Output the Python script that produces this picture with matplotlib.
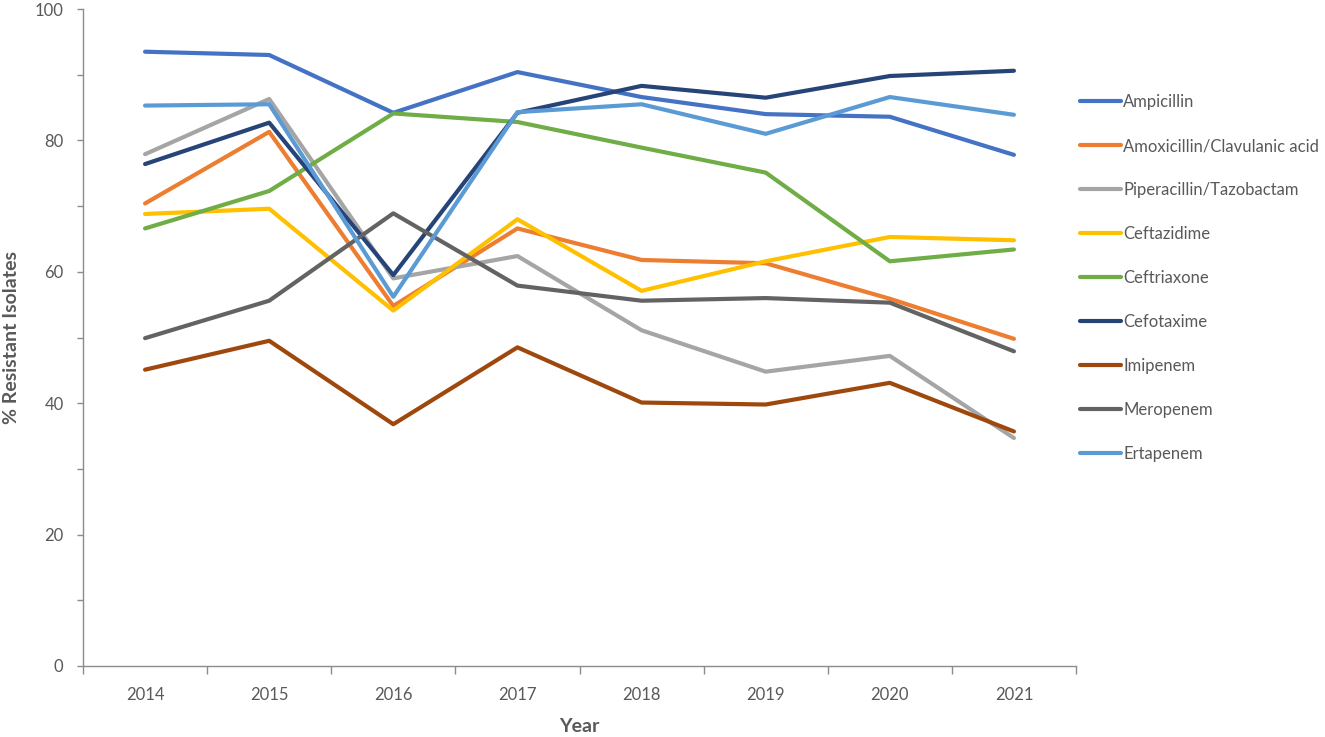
import numpy as np
import matplotlib
matplotlib.use("Agg")
import matplotlib.pyplot as plt
from matplotlib.ticker import MultipleLocator, FixedLocator

plt.rcParams['font.family'] = ['Lato', 'DejaVu Sans']

# data
years = ['2014', '2015', '2016', '2017', '2018', '2019', '2020', '2021']
drugs = ['Ampicillin', 'Amoxicillin/Clavulanic acid', 'Piperacillin/Tazobactam',
         'Ceftazidime', 'Ceftriaxone', 'Cefotaxime', 'Imipenem', 'Meropenem',
         'Ertapenem']
ampicillin = [93.5, 93.0, 84.2, 90.4, 86.6, 84.0, 83.6, 77.8]
amox_clav = [70.4, 81.3, 54.8, 66.6, 61.8, 61.3, 55.9, 49.8]
pip_taz = [77.9, 86.3, 59.0, 62.4, 51.1, 44.8, 47.2, 34.7]
ceftazidime = [68.8, 69.6, 54.1, 68.0, 57.1, 61.6, 65.3, 64.8]
ceftriaxone = [66.6, 72.3, 84.1, 82.8, 78.9, 75.1, 61.6, 63.4]
cefotaxime = [76.4, 82.7, 59.5, 84.2, 88.3, 86.5, 89.8, 90.6]
imipenem = [45.1, 49.5, 36.8, 48.5, 40.1, 39.8, 43.1, 35.7]
meropenem = [49.9, 55.6, 68.9, 57.9, 55.6, 56.0, 55.3, 47.9]
ertapenem = [85.3, 85.5, 56.2, 84.3, 85.5, 81.0, 86.6, 83.9]

series = [ampicillin, amox_clav, pip_taz, ceftazidime, ceftriaxone,
          cefotaxime, imipenem, meropenem, ertapenem]
colors = ['#4472C4', '#ED7D31', '#A5A5A5', '#FFC000', '#70AD47',
          '#264478', '#9E480E', '#636363', '#5B9BD5']

txt = '#595959'
axc = '#8C8C8C'

fig = plt.figure(figsize=(13.25, 7.37), dpi=100)
ax = fig.add_axes([83 / 1325, 71 / 737, (1076 - 83) / 1325, (666 - 9) / 737])

x = np.arange(len(years))
for name, vals, c in zip(drugs, series, colors):
    ax.plot(x, vals, color=c, lw=3, label=name, solid_capstyle='round')

ax.set_xlim(-0.5, len(years) - 0.5)
ax.set_ylim(0, 100)

ax.xaxis.set_major_locator(FixedLocator(np.arange(len(years) + 1) - 0.5))
ax.xaxis.set_minor_locator(FixedLocator(x))
ax.set_xticklabels([], minor=False)
ax.set_xticklabels(years, minor=True)
ax.tick_params(axis='x', which='major', direction='out', length=6, color=axc, width=1)
ax.tick_params(axis='x', which='minor', length=0, pad=15, labelsize=12, labelcolor=txt)

ax.yaxis.set_major_locator(MultipleLocator(20))
ax.yaxis.set_minor_locator(MultipleLocator(10))
ax.tick_params(axis='y', which='both', direction='out', length=4, color=axc, width=1)
ax.tick_params(axis='y', which='major', pad=10, labelsize=12, labelcolor=txt)

for s in ['top', 'right']:
    ax.spines[s].set_visible(False)
for s in ['left', 'bottom']:
    ax.spines[s].set_color(axc)
    ax.spines[s].set_linewidth(1)

ax.set_xlabel('Year', fontsize=14, fontweight='bold', color=txt)
ax.set_ylabel('% Resistant Isolates', fontsize=14, fontweight='bold', color=txt)
ax.xaxis.set_label_coords(0.5, -0.079)
ax.yaxis.set_label_coords(-0.063, 0.5)

leg = fig.legend(loc='upper left', bbox_to_anchor=(1080 / 1325, 1 - 94 / 737),
                 frameon=False, fontsize=12, handlelength=2.45, handletextpad=0.15,
                 labelspacing=1.68, borderaxespad=0, borderpad=0)
for t in leg.get_texts():
    t.set_color(txt)

fig.savefig('out.png', dpi=100)
